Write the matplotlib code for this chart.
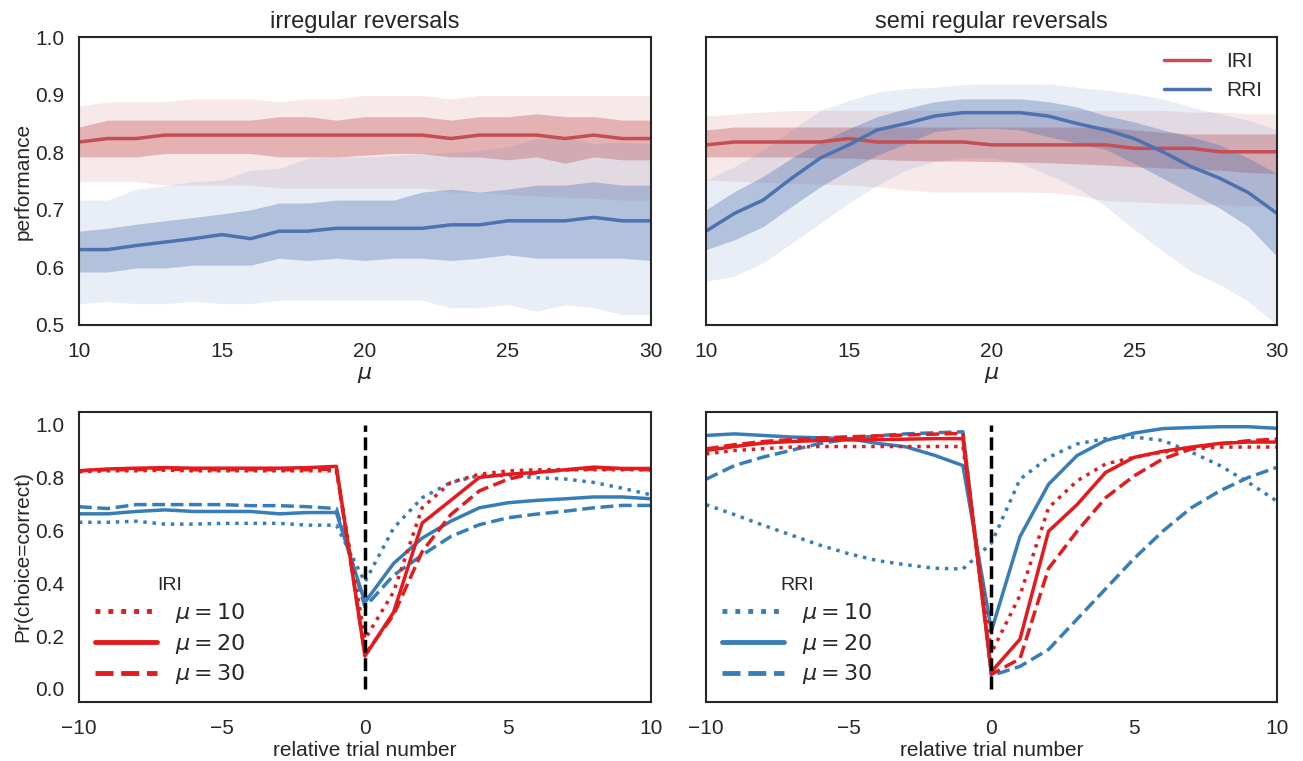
import numpy as np
import matplotlib
matplotlib.use("Agg")
import matplotlib.pyplot as plt
import seaborn as sns

sns.set_style("white")
plt.rcParams["font.family"] = ["Liberation Sans", "DejaVu Sans"]
plt.rcParams["mathtext.fontset"] = "dejavusans"

# ---- top row: performance vs mu ----
mu = np.arange(10, 31)

# irregular reversals
irr_iri_mean = [0.818, 0.824, 0.824, 0.830, 0.830, 0.830, 0.830, 0.830, 0.830, 0.830, 0.830,
                0.830, 0.830, 0.824, 0.830, 0.830, 0.830, 0.824, 0.830, 0.824, 0.824]
irr_iri_q25 = [0.792, 0.792, 0.792, 0.798, 0.798, 0.798, 0.798, 0.792, 0.792, 0.792, 0.795,
               0.798, 0.798, 0.792, 0.792, 0.787, 0.792, 0.781, 0.792, 0.787, 0.787]
irr_iri_q75 = [0.844, 0.856, 0.856, 0.856, 0.856, 0.856, 0.856, 0.862, 0.862, 0.856, 0.862,
               0.862, 0.862, 0.856, 0.862, 0.862, 0.867, 0.862, 0.862, 0.856, 0.856]
irr_iri_lo = [0.749, 0.749, 0.749, 0.743, 0.743, 0.743, 0.743, 0.738, 0.738, 0.738, 0.738,
              0.738, 0.738, 0.731, 0.731, 0.727, 0.724, 0.722, 0.720, 0.717, 0.717]
irr_iri_hi = [0.880, 0.888, 0.888, 0.888, 0.893, 0.893, 0.893, 0.888, 0.893, 0.893, 0.899,
              0.899, 0.899, 0.893, 0.899, 0.899, 0.899, 0.899, 0.899, 0.899, 0.899]

irr_rri_mean = [0.631, 0.631, 0.638, 0.644, 0.650, 0.657, 0.650, 0.663, 0.663, 0.668, 0.668,
                0.668, 0.668, 0.674, 0.674, 0.681, 0.681, 0.681, 0.687, 0.681, 0.681]
irr_rri_q25 = [0.592, 0.592, 0.599, 0.599, 0.604, 0.604, 0.604, 0.616, 0.612, 0.616, 0.612,
               0.616, 0.616, 0.612, 0.616, 0.622, 0.616, 0.616, 0.616, 0.616, 0.612]
irr_rri_q75 = [0.663, 0.668, 0.675, 0.681, 0.687, 0.693, 0.700, 0.712, 0.712, 0.717, 0.717,
               0.717, 0.731, 0.736, 0.731, 0.736, 0.743, 0.743, 0.749, 0.743, 0.743]
irr_rri_lo = [0.537, 0.541, 0.537, 0.537, 0.541, 0.537, 0.537, 0.543, 0.543, 0.543, 0.543,
              0.543, 0.543, 0.530, 0.530, 0.535, 0.524, 0.535, 0.530, 0.518, 0.518]
irr_rri_hi = [0.717, 0.717, 0.736, 0.742, 0.749, 0.752, 0.769, 0.772, 0.790, 0.792, 0.792,
              0.795, 0.798, 0.800, 0.803, 0.810, 0.824, 0.826, 0.815, 0.818, 0.815]

# semi regular reversals
sem_iri_mean = [0.813, 0.818, 0.818, 0.818, 0.818, 0.824, 0.818, 0.818, 0.818, 0.818, 0.813,
                0.813, 0.813, 0.813, 0.813, 0.807, 0.807, 0.807, 0.801, 0.801, 0.801]
sem_iri_q25 = [0.792, 0.792, 0.792, 0.792, 0.790, 0.790, 0.788, 0.786, 0.785, 0.785, 0.784,
               0.783, 0.782, 0.780, 0.778, 0.775, 0.773, 0.771, 0.769, 0.765, 0.763]
sem_iri_q75 = [0.839, 0.844, 0.844, 0.844, 0.844, 0.844, 0.844, 0.844, 0.844, 0.844, 0.844,
               0.844, 0.844, 0.844, 0.844, 0.839, 0.835, 0.832, 0.832, 0.832, 0.832]
sem_iri_lo = [0.752, 0.750, 0.748, 0.746, 0.745, 0.743, 0.740, 0.735, 0.731, 0.731, 0.731,
              0.731, 0.730, 0.725, 0.716, 0.714, 0.712, 0.710, 0.709, 0.707, 0.706]
sem_iri_hi = [0.863, 0.867, 0.870, 0.873, 0.873, 0.873, 0.873, 0.873, 0.873, 0.873, 0.873,
              0.873, 0.873, 0.873, 0.873, 0.873, 0.873, 0.870, 0.870, 0.867, 0.867]

sem_rri_mean = [0.663, 0.694, 0.717, 0.755, 0.790, 0.813, 0.839, 0.850, 0.863, 0.869, 0.869,
                0.869, 0.863, 0.850, 0.839, 0.824, 0.801, 0.775, 0.755, 0.730, 0.694]
sem_rri_q25 = [0.631, 0.648, 0.671, 0.706, 0.740, 0.769, 0.795, 0.815, 0.836, 0.841, 0.842,
               0.839, 0.827, 0.816, 0.805, 0.781, 0.755, 0.729, 0.703, 0.671, 0.619]
sem_rri_q75 = [0.700, 0.732, 0.758, 0.790, 0.818, 0.841, 0.862, 0.876, 0.888, 0.893, 0.893,
               0.893, 0.888, 0.879, 0.864, 0.853, 0.839, 0.827, 0.813, 0.790, 0.763]
sem_rri_lo = [0.576, 0.585, 0.608, 0.642, 0.677, 0.712, 0.743, 0.769, 0.784, 0.790, 0.790,
              0.781, 0.761, 0.738, 0.706, 0.666, 0.628, 0.593, 0.570, 0.541, 0.500]
sem_rri_hi = [0.752, 0.775, 0.804, 0.839, 0.873, 0.890, 0.905, 0.911, 0.913, 0.918, 0.919,
              0.919, 0.919, 0.913, 0.908, 0.902, 0.893, 0.879, 0.867, 0.856, 0.839]

# ---- bottom row: choice probability around reversal ----
trial = np.arange(-10, 11)

irr_red10 = [0.822, 0.826, 0.826, 0.828, 0.826, 0.826, 0.826, 0.826, 0.826, 0.826,
             0.188, 0.367, 0.686, 0.782, 0.813, 0.826, 0.830, 0.830, 0.830, 0.830, 0.830]
irr_red20 = [0.826, 0.833, 0.836, 0.838, 0.836, 0.836, 0.836, 0.836, 0.838, 0.843,
             0.124, 0.290, 0.628, 0.714, 0.801, 0.813, 0.820, 0.830, 0.840, 0.835, 0.835]
irr_red30 = [0.826, 0.830, 0.830, 0.833, 0.830, 0.830, 0.830, 0.830, 0.830, 0.833,
             0.130, 0.280, 0.520, 0.660, 0.750, 0.794, 0.820, 0.830, 0.833, 0.833, 0.830]
irr_blue10 = [0.631, 0.631, 0.635, 0.624, 0.624, 0.627, 0.627, 0.627, 0.620, 0.620,
              0.405, 0.609, 0.724, 0.782, 0.808, 0.808, 0.800, 0.795, 0.782, 0.760, 0.735]
irr_blue20 = [0.663, 0.663, 0.672, 0.678, 0.672, 0.672, 0.672, 0.663, 0.668, 0.668,
              0.328, 0.475, 0.571, 0.635, 0.686, 0.705, 0.714, 0.720, 0.727, 0.727, 0.720]
irr_blue30 = [0.690, 0.683, 0.698, 0.698, 0.698, 0.698, 0.694, 0.694, 0.690, 0.683,
              0.310, 0.430, 0.507, 0.577, 0.622, 0.648, 0.662, 0.673, 0.686, 0.695, 0.695]

sem_red10 = [0.890, 0.903, 0.910, 0.916, 0.918, 0.918, 0.918, 0.918, 0.918, 0.918,
             0.137, 0.354, 0.686, 0.788, 0.852, 0.877, 0.897, 0.909, 0.916, 0.916, 0.916]
sem_red20 = [0.903, 0.918, 0.931, 0.937, 0.941, 0.943, 0.944, 0.946, 0.948, 0.948,
             0.065, 0.188, 0.597, 0.698, 0.820, 0.877, 0.900, 0.916, 0.930, 0.935, 0.935]
sem_red30 = [0.909, 0.925, 0.937, 0.944, 0.950, 0.955, 0.958, 0.962, 0.965, 0.968,
             0.055, 0.114, 0.456, 0.597, 0.724, 0.807, 0.871, 0.909, 0.928, 0.940, 0.946]
sem_blue10 = [0.698, 0.660, 0.620, 0.582, 0.544, 0.512, 0.486, 0.470, 0.457, 0.454,
              0.552, 0.794, 0.877, 0.928, 0.948, 0.954, 0.941, 0.897, 0.846, 0.782, 0.711]
sem_blue20 = [0.960, 0.966, 0.960, 0.954, 0.951, 0.948, 0.930, 0.917, 0.885, 0.846,
              0.220, 0.577, 0.775, 0.884, 0.941, 0.969, 0.986, 0.990, 0.993, 0.993, 0.987]
sem_blue30 = [0.794, 0.846, 0.878, 0.904, 0.930, 0.946, 0.959, 0.966, 0.970, 0.974,
              0.050, 0.085, 0.149, 0.264, 0.379, 0.494, 0.597, 0.686, 0.750, 0.801, 0.839]

top_red, top_blue = "#c44e52", "#4c72b0"
bot_red, bot_blue = "#e41a1c", "#377eb8"

fig = plt.figure(figsize=(13.03, 7.61), dpi=100)
ax1 = fig.add_axes([0.0606, 0.573, 0.439, 0.378])
ax2 = fig.add_axes([0.5418, 0.573, 0.4382, 0.378])
ax3 = fig.add_axes([0.0606, 0.0775, 0.439, 0.3815])
ax4 = fig.add_axes([0.5418, 0.0775, 0.4382, 0.3815])


def band_plot(ax, mean, q25, q75, lo, hi, color, label):
    ax.fill_between(mu, lo, hi, color=color, alpha=0.12, lw=0)
    ax.fill_between(mu, q25, q75, color=color, alpha=0.35, lw=0)
    ax.plot(mu, mean, color=color, lw=2.5, label=label)


band_plot(ax1, irr_iri_mean, irr_iri_q25, irr_iri_q75, irr_iri_lo, irr_iri_hi, top_red, "IRI")
band_plot(ax1, irr_rri_mean, irr_rri_q25, irr_rri_q75, irr_rri_lo, irr_rri_hi, top_blue, "RRI")
band_plot(ax2, sem_iri_mean, sem_iri_q25, sem_iri_q75, sem_iri_lo, sem_iri_hi, top_red, "IRI")
band_plot(ax2, sem_rri_mean, sem_rri_q25, sem_rri_q75, sem_rri_lo, sem_rri_hi, top_blue, "RRI")

for ax, title in [(ax1, "irregular reversals"), (ax2, "semi regular reversals")]:
    ax.set_xlim(10, 30)
    ax.set_ylim(0.5, 1.0)
    ax.set_xticks([10, 15, 20, 25, 30])
    ax.set_xlabel(r"$\mu$", fontsize=16, labelpad=2)
    ax.set_title(title, fontsize=17, pad=7)
ax1.set_ylabel("performance", fontsize=15, labelpad=2)
ax2.set_yticklabels([])
ax2.legend(loc="upper right", frameon=False, fontsize=15, handlelength=2.2,
           borderaxespad=0.3)

styles = [":", "-", "--"]
labels = [r"$\mu = 10$", r"$\mu = 20$", r"$\mu = 30$"]


def trial_plot(ax, reds, blues, legend_color, title):
    for y, ls, lab in zip(blues, styles, labels):
        ax.plot(trial, y, color=bot_blue, ls=ls, lw=2.5, label=lab)
    for y, ls, lab in zip(reds, styles, labels):
        ax.plot(trial, y, color=bot_red, ls=ls, lw=2.5, label=lab)
    ax.vlines(0, 0, 1, colors="k", linestyles="--", lw=2.5)
    ax.set_xlim(-10, 10)
    ax.set_ylim(-0.05, 1.05)
    ax.set_xticks([-10, -5, 0, 5, 10])
    ax.set_xlabel("relative trial number", fontsize=15, labelpad=2)
    h, l = ax.get_legend_handles_labels()
    if legend_color == bot_red:
        h, l = h[3:], l[3:]
    else:
        h, l = h[:3], l[:3]
    leg = ax.legend(h, l, loc="lower left", frameon=False, fontsize=16,
                    title=title, title_fontsize=14, handlelength=2.8,
                    labelspacing=0.3, borderaxespad=0.3)
    for line in leg.get_lines():
        line.set_linewidth(3.5)


trial_plot(ax3, [irr_red10, irr_red20, irr_red30], [irr_blue10, irr_blue20, irr_blue30],
           bot_red, "IRI")
trial_plot(ax4, [sem_red10, sem_red20, sem_red30], [sem_blue10, sem_blue20, sem_blue30],
           bot_blue, "RRI")
ax3.set_yticks([0.0, 0.2, 0.4, 0.6, 0.8, 1.0])
ax3.set_ylabel("Pr(choice=correct)", fontsize=15, labelpad=2)
ax4.set_yticklabels([])

for ax in [ax1, ax2, ax3, ax4]:
    ax.tick_params(labelsize=15)
    ax.tick_params(axis="x", pad=9)
    ax.tick_params(axis="y", pad=7)
    for s in ax.spines.values():
        s.set_color("#262626")
        s.set_linewidth(1.5)

fig.savefig("out.png", dpi=100)
